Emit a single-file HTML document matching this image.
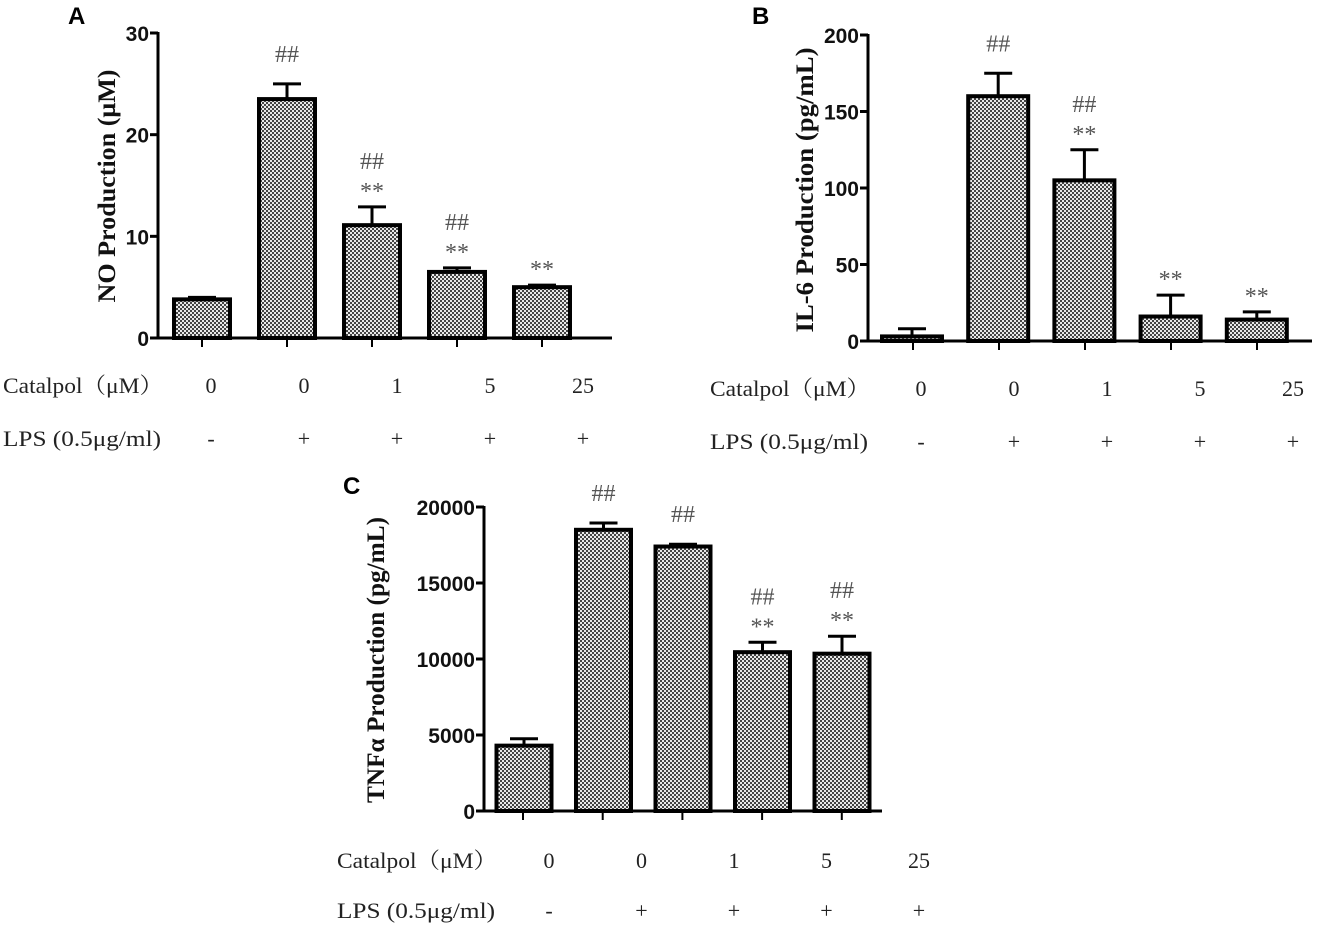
<!DOCTYPE html>
<html><head><meta charset="utf-8"><style>
body{margin:0;background:#fff;width:1336px;height:926px;overflow:hidden}
svg text{font-family:"Liberation Serif","Noto Serif CJK SC",serif}
.lbl{font-size:22px;fill:#222}
.tick{font-family:"Liberation Sans",Arial,sans-serif !important;font-weight:bold;font-size:21px;fill:#111}
.sig{font-size:24px;fill:#555}
.ytitle{font-weight:bold;font-size:25px;fill:#111}
.panel{font-family:"Liberation Sans",Arial,sans-serif !important;font-weight:bold;font-size:24px;fill:#000}
</style></head><body>
<svg id="fig" width="1336" height="926" xmlns="http://www.w3.org/2000/svg">
<defs>
<pattern id="chk" width="4" height="4" patternUnits="userSpaceOnUse">
<rect width="4" height="4" fill="#e8e8e8"/>
<rect width="2" height="2" fill="#444"/>
<rect x="2" y="2" width="2" height="2" fill="#444"/>
</pattern>
</defs>
</svg>
<script>
const catLabels=["0","0","1","5","25"];
const lpsLabels=["-","+","+","+","+"];
const noValues=[3.8,23.5,11.1,6.5,5.0];
const noErrors=[0.2,1.5,1.8,0.4,0.2];
const noSig=[["",""],["##",""],["##","**"],["##","**"],["","**"]];
const noTicks=[0,10,20,30];
const il6Values=[3,160,105,16,14];
const il6Errors=[5,15,20,14,5];
const il6Sig=[["",""],["##",""],["##","**"],["","**"],["","**"]];
const il6Ticks=[0,50,100,150,200];
const tnfValues=[4300,18500,17400,10450,10350];
const tnfErrors=[450,450,150,650,1150];
const tnfSig=[["",""],["##",""],["##",""],["##","**"],["##","**"]];
const tnfTicks=[0,5000,10000,15000,20000];

const svg=document.getElementById('fig');
const NS="http://www.w3.org/2000/svg";
function mk(tag,attrs,parent){const e=document.createElementNS(NS,tag);for(const k in attrs)e.setAttribute(k,attrs[k]);(parent||svg).appendChild(e);return e;}

function panel(cfg){
  const g=mk('g',{});
  
  
  const ymax=cfg.ticks[cfg.ticks.length-1];
  const Y=v=>cfg.y0-(v/ymax)*(cfg.y0-cfg.yTop);
  const X=i=>cfg.x0+i*cfg.step;
  cfg.values.forEach((v,i)=>{
    const cx=X(i),top=Y(v),et=Y(v+cfg.errors[i]);
    const el=mk('line',{x1:cx,x2:cx,y1:top,y2:et,stroke:'#000','stroke-width':3},g);
    
    
    const cap=mk('line',{x1:cx-14,x2:cx+14,y1:et,y2:et,stroke:'#000','stroke-width':3},g);
    
    
    const r=mk('rect',{x:cx-cfg.bw/2,y:top,width:cfg.bw,height:cfg.y0-top,fill:'url(#chk)',stroke:'#000','stroke-width':4},g);
    
    
    const s=cfg.sig[i];
    if(s[1]){const t=mk('text',{x:cx,y:et-8,'text-anchor':'middle','class':'sig'},g);t.textContent=s[1];
      }
    if(s[0]){const t=mk('text',{x:cx,y:et-(s[1]?38:22),'text-anchor':'middle','class':'sig'},g);t.textContent=s[0];
      }
    const tk=mk('line',{x1:cfg.tx0+i*cfg.tstep,x2:cfg.tx0+i*cfg.tstep,y1:cfg.y0,y2:cfg.y0+9,stroke:'#000','stroke-width':2},g);
    
  });
  const ya=mk('line',{x1:cfg.ax,x2:cfg.ax,y1:cfg.yTop-1,y2:cfg.y0+1,stroke:'#000','stroke-width':3},g);
  
  const xa=mk('line',{x1:cfg.ax,x2:cfg.axEnd,y1:cfg.y0,y2:cfg.y0,stroke:'#000','stroke-width':3},g);
  
  cfg.ticks.forEach(t=>{
    const l=mk('line',{x1:cfg.ax-8,x2:cfg.ax,y1:Y(t),y2:Y(t),stroke:'#000','stroke-width':3},g);
    
    const tx=mk('text',{x:cfg.ax-9,y:Y(t)+8,'text-anchor':'end','class':'tick'},g);tx.textContent=t;
    
  });
  const yt=mk('text',{x:0,y:0,'text-anchor':'middle','class':'ytitle',textLength:cfg.titleLen,lengthAdjust:'spacingAndGlyphs',transform:`translate(${cfg.titleX},${cfg.titleY}) rotate(-90)`},g);
  yt.textContent=cfg.title;
  
  const pl=mk('text',{x:cfg.px,y:cfg.py,'class':'panel'},g);pl.textContent=cfg.letter;
  
  const c1=mk('text',{x:cfg.rowX,y:cfg.row1,'class':'lbl',textLength:160,lengthAdjust:'spacingAndGlyphs'},g);c1.textContent="Catalpol（μM）";
  
  const c2=mk('text',{x:cfg.rowX,y:cfg.row2,'class':'lbl',textLength:158,lengthAdjust:'spacingAndGlyphs'},g);c2.textContent="LPS (0.5μg/ml)";
  
  catLabels.forEach((c,i)=>{
    const t=mk('text',{x:cfg.lx0+i*cfg.lstep,y:cfg.row1,'text-anchor':'middle','class':'lbl'},g);t.textContent=c;
    
    const u=mk('text',{x:cfg.lx0+i*cfg.lstep,y:cfg.row2,'text-anchor':'middle','class':'lbl'},g);u.textContent=lpsLabels[i];
    
  });
}
panel({name:'panel-a-no',letter:'A',px:68,py:24,title:'NO Production (μM)',titleX:115,titleY:186,titleLen:233,
  values:noValues,errors:noErrors,sig:noSig,ticks:noTicks,
  ax:158,axEnd:612,y0:338,yTop:33,x0:202,step:85,bw:56,tx0:202,tstep:85,
  rowX:3,row1:393,row2:446,lx0:211,lstep:93});
panel({name:'panel-b-il6',letter:'B',px:752,py:24,title:'IL-6  Production  (pg/mL)',titleX:813,titleY:190,titleLen:285,
  values:il6Values,errors:il6Errors,sig:il6Sig,ticks:il6Ticks,
  ax:868,axEnd:1312,y0:341,yTop:35,x0:912,step:86.2,bw:60,tx0:913,tstep:86,
  rowX:710,row1:396,row2:449,lx0:921,lstep:93});
panel({name:'panel-c-tnf',letter:'C',px:343,py:494,title:'TNFα  Production (pg/mL)',titleX:384,titleY:660,titleLen:286,
  values:tnfValues,errors:tnfErrors,sig:tnfSig,ticks:tnfTicks,
  ax:484,axEnd:882,y0:811,yTop:507,x0:524,step:79.5,bw:55,tx0:523,tstep:79.7,
  rowX:337,row1:868,row2:918,lx0:549,lstep:92.5});
</script>
</body></html>
